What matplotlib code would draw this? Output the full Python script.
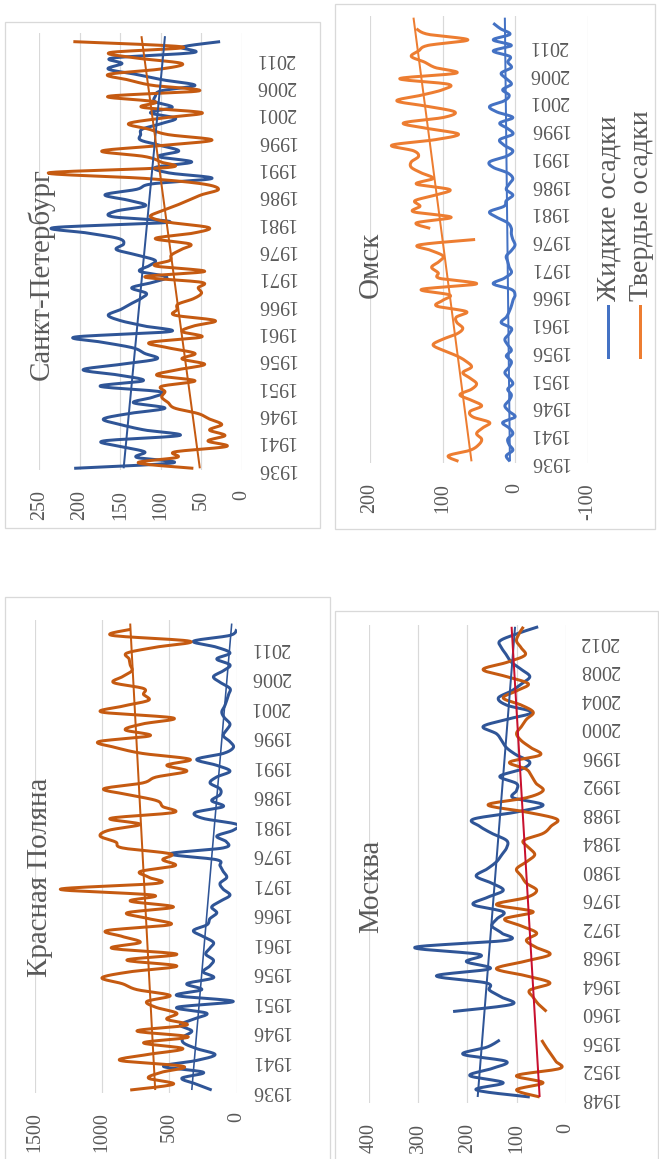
import numpy as np
import matplotlib
matplotlib.use("Agg")
import matplotlib.pyplot as plt
from matplotlib.lines import Line2D
from matplotlib.patches import Rectangle

nan = np.nan

# ---------------- data ----------------
spb_years = np.arange(1936, 2016)
spb_liquid = [207, 85, 130, 120, 150, 171, 77, 120, 150, 171,
              140, 95, 134, 110, 101, 175, 122, 150, 196, 150,
              105, 120, 134, 170, 206, 89, 120, 150, 165, 150,
              138, 125, 118, 136, 110, 93, 126, 115, 107, 130,
              155, 146, 152, 190, 232, 90, 160, 156, 119, 140,
              169, 130, 111, 37, 90, 107, 62, 103, 78, 100,
              125, 125, 123, 100, 82, 113, 86, 107, 107, 100,
              58, 97, 130, 165, 148, 160, 60, 74, 27, nan]
spb_solid = [60, 128, 80, 83, 19, 42, 21, 40, 25, 40,
             54, 83, 91, 99, 95, 99, 58, 105, 80, 46,
             74, 58, 90, 114, 50, 74, 60, 33, 83, 80,
             79, 60, 50, 54, 50, 120, 46, 107, 89, 87,
             75, 64, 107, 60, 41, 91, 113, 100, 82, 66,
             50, 29, 49, 120, 239, 91, 100, 120, 173, 100,
             37, 91, 115, 140, 100, 49, 123, 107, 165, 53,
             110, 140, 165, 100, 74, 130, 163, 72, 208, nan]
spb_trend_years = [1936, 2015]
spb_liquid_trend = [146, 95]
spb_solid_trend = [52, 124]

omsk_years = np.arange(1936, 2017)
omsk_liquid = [7, 12, 3, 8, 10, 3, 8, 17, 0, 8,
               14, 8, 5, 10, 3, 8, 14, 8, 5, 12,
               5, 10, 14, 8, 5, 19, 12, 8, 5, 3,
               0, 5, 30, 15, 5, 8, 10, 12, 5, 0,
               3, 5, 5, 10, 25, 35, 15, 12, 3, 12,
               8, 3, 10, 30, 35, 12, 3, 15, 21, 3,
               10, 21, 3, 25, 35, 15, 8, 17, 5, 12,
               19, 5, 10, 7, 30, 5, 30, 7, 20, 30, nan]
omsk_solid = [78, 92, 62, 50, 46, 53, 45, 35, 58, 62,
              46, 60, 76, 60, 53, 62, 72, 60, 67, 80,
              99, 113, 100, 80, 72, 80, 81, 67, 108, 100,
              90, 129, 53, 104, 106, 115, 105, 99, 115, 133,
              55, nan, 117, 136, 88, 140, 131, 138, 110, 90,
              136, 113, 129, 143, 143, 133, 140, 170, 110, 78,
              120, 154, 99, 83, 120, 163, 130, 100, 92, 159,
              81, 110, 125, 143, 133, 120, 65, 120, 136, nan, nan]
omsk_trend_years = [1936, 2016]
omsk_liquid_trend = [7, 14]
omsk_solid_trend = [60, 140]

kp_years = np.arange(1936, 2016)
kp_liquid = [186, 300, 408, 247, 545, 300, 161, 297, 396, 396,
             334, 420, 322, 223, 445, 25, 445, 260, 371, 173,
             250, 200, 173, 230, 200, 173, 250, 322, 220, 200,
             148, 186, 120, 50, 100, 124, 74, 100, 124, 150,
             495, 100, 74, 148, 25, 0, 250, 309, 100, 186,
             124, 124, 198, 150, 50, 150, 297, 100, 25, 50,
             100, 74, 50, 90, 111, 90, 74, 60, 50, 120,
             173, 100, 50, 148, 50, 150, 322, 50, 0, nan]
kp_solid = [792, 470, 656, 560, 396, 866, 668, 400, 693, 360,
            742, 371, 520, 445, 600, 668, 495, 742, 850, 1002,
            800, 445, 817, 445, 928, 718, 850, 965, 495, 650,
            817, 470, 792, 619, 1312, 594, 650, 718, 458, 550,
            493, 850, 900, 1015, 950, 718, 940, 470, 550, 594,
            800, 990, 700, 600, 371, 520, 347, 700, 900, 1027,
            644, 829, 700, 470, 1002, 850, 656, 693, 693, 916,
            850, 780, 792, 800, 817, 600, 347, 928, 792, nan]
kp_trend_years = [1936, 2015]
kp_liquid_trend = [334, 37]
kp_solid_trend = [606, 792]

msk_years = np.arange(1948, 2015)
msk_liquid = [73, 182, 127, 195, 150, 121, 209, 160, 134, nan,
              nan, nan, 229, 110, 130, 155, 161, 263, 154, 202,
              175, 307, 120, 130, 150, 140, 127, 188, 160, 127,
              150, 182, 160, 141, 130, 120, 120, 150, 175, 188,
              100, 46, 107, 100, 100, 134, 90, 73, 100, 120,
              130, 141, 168, 120, 69, 120, 137, 110, 90, 73,
              90, 110, 120, 130, 134, 100, 56]
msk_solid = [53, 100, 46, 100, 12, 20, 30, 40, 49, nan,
             nan, nan, 39, 55, 66, 73, 32, 80, 141, 86,
             32, 60, 80, 59, 90, 124, 66, 141, 80, 59,
             80, 90, 100, 80, 63, 75, 86, 46, 30, 18,
             80, 158, 80, 46, 60, 69, 80, 114, 52, 70,
             90, 100, 90, 80, 66, 90, 127, 100, 76, 120,
             168, 120, 83, 90, 100, 95, 86]
msk_trend_years = [1948, 2014]
msk_liquid_trend = [179, 103]
msk_solid_trend = [53, 110]

legend_labels = ["Жидкие осадки", "Твердые осадки"]
titles = ["Санкт-Петербург", "Омск", "Красная Поляна", "Москва"]

# ---------------- style ----------------
W, H = 659, 1159
DPI = 100
GRAY = "#595959"
GRID = "#D9D9D9"
SERIF = ["Liberation Serif", "DejaVu Serif"]
DBLUE, DORANGE = "#2F5597", "#C55A11"
BLUE, ORANGE = "#4472C4", "#ED7D31"
RED = "#C8102E"

plt.rcParams["font.family"] = SERIF

fig = plt.figure(figsize=(W / DPI, H / DPI), dpi=DPI)
fig.patch.set_facecolor("white")


def px2pt(p):
    return p * 72.0 / DPI


def smooth(x, y, n=14):
    """Excel-like smoothed line (cubic Bezier), gaps split the line."""
    x = np.asarray(x, float)
    y = np.asarray(y, float)
    idx = np.where(~np.isnan(y))[0]
    runs = np.split(idx, np.where(np.diff(idx) != 1)[0] + 1)
    ox, oy = [], []
    for r in runs:
        if len(r) == 0:
            continue
        px, py = x[r], y[r]
        sx, sy = [px[0]], [py[0]]
        m = len(r)
        for k in range(m - 1):
            a = k - 1 if k > 0 else k
            b = k + 2 if k + 2 < m else k + 1
            c1x = px[k] + (px[k + 1] - px[a]) / 6.0
            c1y = py[k] + (py[k + 1] - py[a]) / 6.0
            c2x = px[k + 1] - (px[b] - px[k]) / 6.0
            c2y = py[k + 1] - (py[b] - py[k]) / 6.0
            t = np.linspace(0, 1, n)[1:]
            sx.extend((1 - t) ** 3 * px[k] + 3 * (1 - t) ** 2 * t * c1x
                      + 3 * (1 - t) * t ** 2 * c2x + t ** 3 * px[k + 1])
            sy.extend((1 - t) ** 3 * py[k] + 3 * (1 - t) ** 2 * t * c1y
                      + 3 * (1 - t) * t ** 2 * c2y + t ** 3 * py[k + 1])
        ox.extend(sx + [nan])
        oy.extend(sy + [nan])
    return np.array(ox), np.array(oy)


def border(x0, y0, x1, y1):
    fig.add_artist(Rectangle((x0 / W, 1 - y1 / H), (x1 - x0) / W, (y1 - y0) / H,
                             transform=fig.transFigure, fill=False,
                             ec=GRID, lw=px2pt(1.3)))


def panel(left, top, right, bottom, vmin, vmax, vticks, ylim, yticks):
    ax = fig.add_axes([left / W, 1 - bottom / H, (right - left) / W, (bottom - top) / H])
    ax.set_facecolor("none")
    ax.set_xlim(vmax, vmin)
    ax.set_ylim(*ylim)
    for s in ax.spines.values():
        s.set_visible(False)
    ax.spines["right"].set_position(("data", 0))
    ax.yaxis.tick_right()
    ax.set_xticks(vticks)
    ax.set_xticklabels([str(v) for v in vticks], rotation=90, color=GRAY,
                       fontsize=px2pt(20), va="top", ha="center")
    ax.set_yticks(yticks)
    ax.set_yticklabels([str(v) for v in yticks], rotation=180, color=GRAY,
                       fontsize=px2pt(20), va="center", ha="left")
    ax.tick_params(axis="x", length=0, pad=px2pt(20))
    ax.tick_params(axis="y", length=0, pad=px2pt(14))
    ax.xaxis.grid(True, color=GRID, lw=px2pt(1.2))
    ax.yaxis.grid(False)
    ax.set_axisbelow(True)
    return ax


def series(ax, years, vals, color, lw=3.0):
    sx, sy = smooth(years, vals)
    ax.plot(sy, sx, color=color, lw=px2pt(lw), solid_capstyle="butt",
            solid_joinstyle="round")


def trend(ax, tyears, tvals, color, lw=2.0):
    ax.plot(tvals, tyears, color=color, lw=px2pt(lw), solid_capstyle="butt")


# ---- Санкт-Петербург ----
border(5, 22, 320, 528)
ax = panel(39.3, 33, 242, 470, 0, 250, [0, 50, 100, 150, 200, 250],
           (1935.69, 2015.58), list(range(1936, 2012, 5)))
series(ax, spb_years, spb_liquid, DBLUE)
series(ax, spb_years, spb_solid, DORANGE)
trend(ax, spb_trend_years, spb_liquid_trend, DBLUE)
trend(ax, spb_trend_years, spb_solid_trend, DORANGE)
fig.text(41 / W, 1 - 274 / H, titles[0], rotation=90, ha="center", va="center",
         color=GRAY, fontsize=px2pt(29))

# ---- Омск ----
border(335, 4, 655, 529)
ax = panel(370, 16, 587.5, 463, -100, 200, [-100, 0, 100, 200],
           (1935.7, 2016.3), list(range(1936, 2012, 5)))
series(ax, omsk_years, omsk_liquid, BLUE)
series(ax, omsk_years, omsk_solid, ORANGE)
trend(ax, omsk_trend_years, omsk_liquid_trend, BLUE)
trend(ax, omsk_trend_years, omsk_solid_trend, ORANGE)
fig.text(371 / W, 1 - 265 / H, titles[1], rotation=90, ha="center", va="center",
         color=GRAY, fontsize=px2pt(29))
for lx, col, lab in [(608, BLUE, legend_labels[0]), (640, ORANGE, legend_labels[1])]:
    fig.add_artist(Line2D([lx / W, lx / W], [1 - 357 / H, 1 - 306 / H],
                          transform=fig.transFigure, color=col, lw=px2pt(3)))
    fig.text((lx + 1) / W, 1 - 301 / H, lab, rotation=90, ha="center", va="bottom",
             color=GRAY, fontsize=px2pt(28))

# ---- Красная Поляна ----
border(5, 597, 330, 1170)
ax = panel(35, 620, 236.7, 1092.5, 0, 1500, [0, 500, 1000, 1500],
           (1935.58, 2015.6), list(range(1936, 2012, 5)))
series(ax, kp_years, kp_liquid, DBLUE)
series(ax, kp_years, kp_solid, DORANGE)
trend(ax, kp_trend_years, kp_liquid_trend, DBLUE, lw=1.6)
trend(ax, kp_trend_years, kp_solid_trend, DORANGE)
fig.text(40 / W, 1 - 877 / H, titles[2], rotation=90, ha="center", va="center",
         color=GRAY, fontsize=px2pt(29))

# ---- Москва ----
border(335, 611, 658, 1170)
ax = panel(369, 625, 565.7, 1102.7, 0, 400, [0, 100, 200, 300, 400],
           (1947.2, 2014.25), list(range(1948, 2013, 4)))
series(ax, msk_years, msk_liquid, DBLUE)
series(ax, msk_years, msk_solid, DORANGE)
trend(ax, msk_trend_years, msk_liquid_trend, DBLUE)
trend(ax, msk_trend_years, msk_solid_trend, RED)
fig.text(371 / W, 1 - 886 / H, titles[3], rotation=90, ha="center", va="center",
         color=GRAY, fontsize=px2pt(29))

fig.savefig("out.png", dpi=DPI, facecolor="white")
